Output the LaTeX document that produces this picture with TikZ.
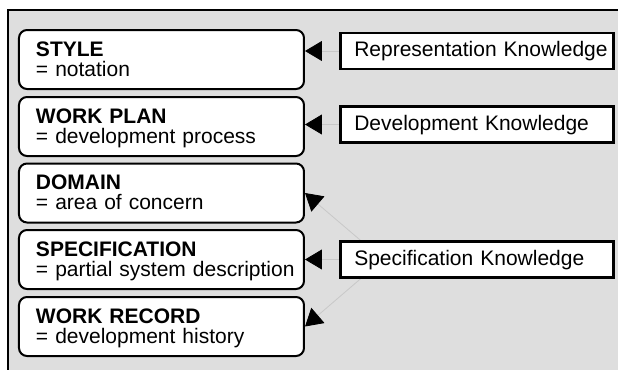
\documentclass[tikz,border=0pt]{standalone}
\usepackage{fontspec}
\setmainfont{Liberation Sans}
\usepackage{xcolor}
\usepackage{tikz}
\usetikzlibrary{arrows.meta}
\definecolor{panelgray}{HTML}{DEDEDE}
\definecolor{linkgray}{HTML}{C8C8C8}
\newcommand{\facet}[2]{\hspace*{8.5pt}\rule{0pt}{13pt}\textbf{#1}\\\hspace*{8.5pt}#2\rule[-6.5pt]{0pt}{6.5pt}}

\begin{document}
\begin{tikzpicture}[x=0.5pt, y=-0.5pt,
  facetbox/.style={draw, line width=1pt, rounded corners=4pt, fill=white, anchor=north west,
    align=left, text width=142.5pt, inner xsep=0pt, inner ysep=0pt, minimum height=29.5pt,
    font=\fontsize{10.5pt}{10pt}\selectfont},
  knowbox/.style={draw, line width=1.3pt, fill=white, anchor=west, align=left,
    text width=136.5pt, inner xsep=0pt, inner ysep=0pt, minimum height=18pt,
    text height=7.8pt, text depth=2.2pt, font=\fontsize{10.5pt}{10pt}\selectfont,
    execute at begin node=\hspace*{7pt}},
  link/.style={draw=linkgray, line width=0.4pt, -{Triangle[length=8.5pt, width=10pt, color=black]}}]
  \useasboundingbox (0,0) rectangle (618,370);
  \fill[panelgray] (8,10) rectangle (618,370);
  \draw[line width=1pt] (8,370) -- (8,10) -- (618,10);

  \node[facetbox] (style) at (18,29) {\facet{STYLE}{= notation}};
  \node[facetbox] (plan) at (18,96) {\facet{WORK PLAN}{= development process}};
  \node[facetbox] (domain) at (18,162.5) {\facet{DOMAIN}{= area of concern}};
  \node[facetbox] (specification) at (18,229) {\facet{SPECIFICATION}{= partial system description}};
  \node[facetbox] (record) at (18,296) {\facet{WORK RECORD}{= development history}};

  \node[knowbox] (reprknow) at (339,51) {Representation Knowledge};
  \node[knowbox] (devknow) at (339,124.5) {Development Knowledge};
  \draw[link] (reprknow.west) -- (style.east |- reprknow.west);
  \draw[link] (devknow.west) -- (plan.east |- devknow.west);

  \coordinate (hub) at (383,259.5);
  \draw[link] (hub) -- (domain.east);
  \draw[link] (hub) -- (specification.east);
  \draw[link] (hub) -- (record.east);
  \node[knowbox] (specknow) at (339,259.5) {Specification Knowledge};
\end{tikzpicture}
\end{document}
